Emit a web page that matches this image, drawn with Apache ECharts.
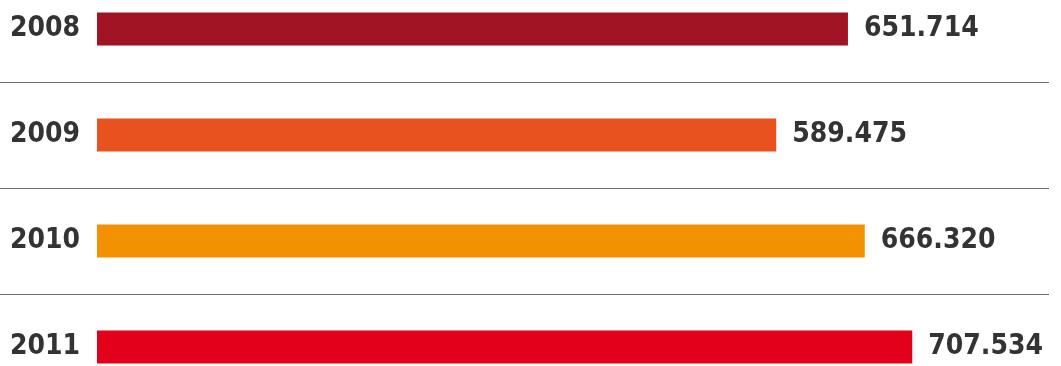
<!DOCTYPE html>
<html>
<head>
<meta charset="utf-8">
<script src="https://cdn.jsdelivr.net/npm/echarts@6/dist/echarts.min.js"></script>
<style>
  html, body { margin: 0; padding: 0; background: #ffffff; }
  #chart { width: 1061px; height: 366px; }
</style>
</head>
<body>
<div id="chart"></div>
<script>
// Yearly totals
const years = ['2008', '2009', '2010', '2011'];
const totals = [651.714, 589.475, 666.320, 707.534];
const barColors = ['#A01423', '#E8521F', '#F39200', '#E2001A'];

const labelFont = '"DejaVu Sans Condensed", "Liberation Sans Narrow", sans-serif';

function formatTotal(v) {
  return v.toFixed(3);
}

const chart = echarts.init(document.getElementById('chart'), null, { renderer: 'canvas' });

chart.setOption({
  animation: false,
  backgroundColor: '#ffffff',
  grid: {
    left: 0, right: 12, top: -24, height: 424,
    containLabel: false,
    outerBoundsMode: 'none'
  },
  xAxis: {
    type: 'value',
    min: -84.2,
    max: 826.2,
    show: false
  },
  yAxis: {
    type: 'category',
    data: years,
    inverse: true,
    axisLine: { show: false },
    axisTick: { show: false },
    splitLine: { show: true, lineStyle: { color: '#6e6e6e', width: 1.2 } },
    axisLabel: {
      inside: true,
      margin: 80,
      align: 'right',
      color: '#333333',
      fontFamily: labelFont,
      fontWeight: 'bold',
      fontSize: 28
    }
  },
  series: [{
    type: 'bar',
    data: totals.map((v, i) => ({ value: v, itemStyle: { color: barColors[i] } })),
    barWidth: 33,
    label: {
      show: true,
      position: 'right',
      distance: 16,
      color: '#333333',
      fontFamily: labelFont,
      fontWeight: 'bold',
      fontSize: 28,
      formatter: p => formatTotal(p.value)
    }
  }]
});
</script>
</body>
</html>
